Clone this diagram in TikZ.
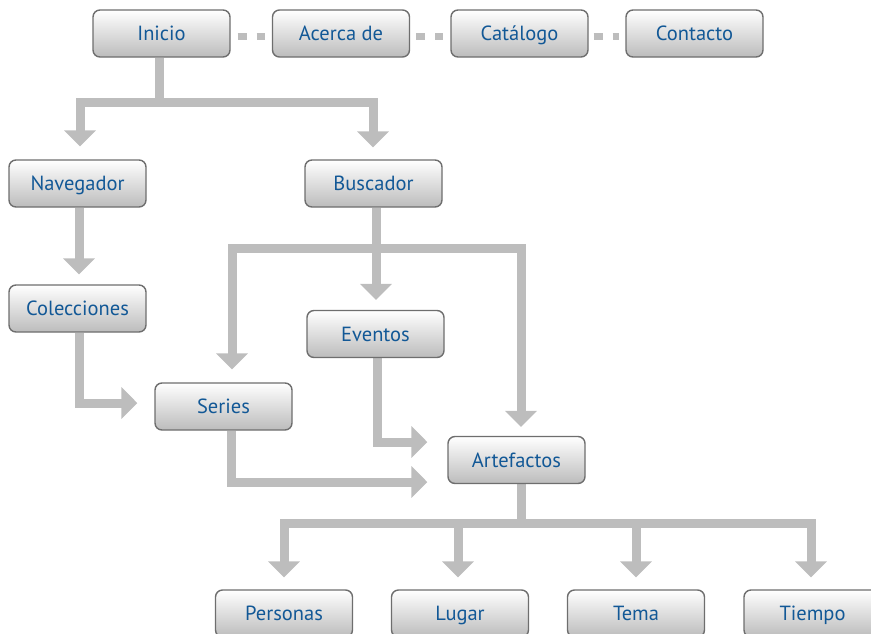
\documentclass[tikz,border=0pt]{standalone}
\usepackage{fontspec}
\setmainfont{PT Sans}
\usetikzlibrary{arrows.meta,backgrounds}
\definecolor{txtblue}{RGB}{18,88,150}
\definecolor{conngray}{RGB}{189,189,189}
\definecolor{boxborder}{RGB}{110,110,110}
\definecolor{boxbottom}{RGB}{188,188,188}
\begin{document}
\begin{tikzpicture}[x=1pt,y=-1pt,
  box/.style={draw=boxborder, line width=1.4pt, rounded corners=7pt,
    top color=white, bottom color=boxbottom,
    minimum width=137pt, minimum height=47pt, inner sep=0pt,
    text=txtblue, font=\fontsize{20.5}{24}\selectfont,
    text height=14.5pt, text depth=0pt},
  conn/.style={draw=conngray, line width=9pt,
    -{Triangle[width=31pt,length=16pt]}},
  dotconn/.style={draw=conngray, line width=7.5pt, dash pattern=on 9pt off 10pt}]
\useasboundingbox (0,0) rectangle (871,633);
\clip (0,0) rectangle (871,633);
% top row
\node[box] (Inicio)   at (161.5,33.5) {Inicio};
\node[box] (Acerca)   at (341,33.5)   {Acerca de};
\node[box] (Catalogo) at (519.5,33.5) {Catálogo};
\node[box] (Contacto) at (694.5,33.5) {Contacto};
% second level
\node[box] (Navegador)   at (77.5,183.5)  {Navegador};
\node[box] (Buscador)    at (373.5,183.5) {Buscador};
\node[box] (Colecciones) at (77.5,308.5)  {Colecciones};
\node[box] (Eventos)     at (375.5,334)   {Eventos};
\node[box] (Series)      at (223.5,406.5) {Series};
\node[box] (Artefactos)  at (516.5,460)   {Artefactos};
% bottom row
\node[box] (Personas) at (284,613.5)   {Personas};
\node[box] (Lugar)    at (460,613.5)   {Lugar};
\node[box] (Tema)     at (636,613.5)   {Tema};
\node[box] (Tiempo)   at (812.5,613.5) {Tiempo};
\begin{scope}[on background layer]
% dotted links in top row
\draw[dotconn] ([xshift=7pt,yshift=-3pt]Inicio.east) -- ([xshift=-7pt,yshift=-3pt]Acerca.west);
\draw[dotconn] ([xshift=6pt,yshift=-3pt]Acerca.east) -- ([xshift=-7pt,yshift=-3pt]Catalogo.west);
\draw[dotconn] ([xshift=5pt,yshift=-3pt]Catalogo.east) -- ([xshift=-6pt,yshift=-3pt]Contacto.west);
% Inicio branches
\draw[conn] ([xshift=-2.5pt]Inicio.south) -- ++(0,45) -| ([xshift=2.5pt,yshift=13pt]Navegador.north);
\draw[conn] ([xshift=-2.5pt]Inicio.south) -- ++(0,45) -| ([xshift=-0.5pt,yshift=12pt]Buscador.north);
% Navegador -> Colecciones
\draw[conn] ([xshift=1.5pt]Navegador.south) -- ([xshift=1.5pt,yshift=10pt]Colecciones.north);
% Buscador branches
\draw[conn] ([xshift=2.5pt]Buscador.south) -- ++(0,41) -| ([xshift=8.5pt,yshift=13pt]Series.north);
\draw[conn] ([xshift=2.5pt]Buscador.south) -- ++(0,41) -| ([xshift=4.5pt,yshift=9pt]Artefactos.north);
\draw[conn] ([xshift=2.5pt]Buscador.south) -- ([xshift=0.5pt,yshift=10pt]Eventos.north);
% into Series and Artefactos
\draw[conn] ([xshift=1.5pt]Colecciones.south) |- ([xshift=-17pt,yshift=3.5pt]Series.west);
\draw[conn] ([xshift=1.5pt]Eventos.south) |- ([xshift=-20pt,yshift=18pt]Artefactos.west);
\draw[conn] ([xshift=7.5pt]Series.south) |- ([xshift=-20pt,yshift=-22pt]Artefactos.west);
% Artefactos branches
\draw[conn] ([xshift=4.5pt]Artefactos.south) -- ++(0,39) -| ([yshift=12pt]Personas.north);
\draw[conn] ([xshift=4.5pt]Artefactos.south) -- ++(0,39) -| ([xshift=-2pt,yshift=12pt]Lugar.north);
\draw[conn] ([xshift=4.5pt]Artefactos.south) -- ++(0,39) -| ([yshift=12pt]Tema.north);
\draw[conn] ([xshift=4.5pt]Artefactos.south) -- ++(0,39) -| ([xshift=-1.5pt,yshift=12pt]Tiempo.north);
\end{scope}
\end{tikzpicture}
\end{document}
